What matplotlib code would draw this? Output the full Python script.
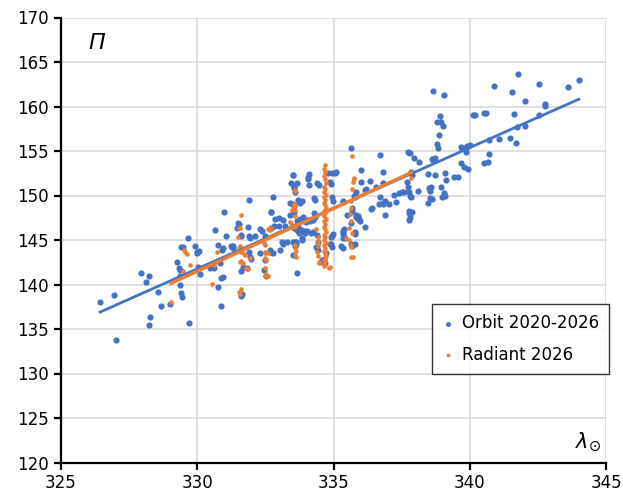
import numpy as np
import matplotlib
matplotlib.use("Agg")
import matplotlib.pyplot as plt

# Orbit 2020-2026 (solar longitude, Pi)
orbit = [
    (326.43, 138.0), (326.95, 138.8), (327.01, 133.8), (327.94, 141.3), (328.10, 140.3),
    (328.23, 140.9), (328.55, 139.2), (328.67, 137.6), (328.27, 136.3), (328.22, 135.5),
    (328.99, 137.8), (329.25, 142.5), (329.32, 141.8), (329.35, 141.6), (329.40, 144.2),
    (329.65, 145.2), (329.90, 144.3), (329.98, 143.5), (329.36, 139.9), (329.40, 139.0),
    (329.45, 138.6), (329.69, 135.7), (330.64, 146.1), (330.98, 148.2), (330.76, 144.4),
    (330.93, 144.1), (331.07, 145.5), (331.23, 144.3), (331.30, 144.3), (330.76, 139.7),
    (330.85, 137.6), (330.88, 140.7), (330.93, 140.8), (330.03, 142.0), (330.00, 143.7),
    (330.05, 143.8), (330.46, 141.8), (330.82, 142.4), (331.44, 146.3), (331.50, 146.9),
    (331.62, 145.6), (331.62, 145.4), (331.86, 146.5), (331.88, 145.4), (331.83, 141.8),
    (331.62, 138.7), (331.64, 138.9), (331.90, 143.7), (332.30, 146.2), (332.36, 146.0),
    (332.47, 145.4), (332.44, 141.6), (332.50, 142.7), (332.69, 148.2), (332.72, 148.2),
    (332.69, 146.3), (332.68, 143.7), (332.53, 141.0), (333.02, 143.9), (332.80, 146.6),
    (332.98, 146.6), (333.22, 146.6), (333.39, 147.8), (333.50, 149.0), (333.53, 148.8),
    (333.55, 148.1), (333.50, 144.8), (333.57, 144.8), (333.62, 144.6), (333.66, 141.3),
    (333.85, 145.2), (333.80, 146.1), (333.86, 146.0), (334.00, 147.0), (334.05, 147.2),
    (334.12, 147.1), (334.17, 145.8), (334.23, 145.9), (334.38, 145.6), (334.42, 144.8),
    (334.67, 142.4), (334.73, 143.5), (334.85, 144.6), (334.97, 145.7), (335.34, 145.9),
    (335.40, 145.2), (335.49, 147.8), (335.65, 146.9), (335.83, 147.8), (335.77, 144.6),
    (331.90, 149.5), (331.52, 146.8), (331.95, 145.2), (332.10, 145.5), (332.78, 149.8),
    (332.85, 147.4), (333.00, 147.5), (333.15, 147.3), (333.50, 152.3), (333.55, 150.8),
    (333.60, 150.4), (333.68, 149.5), (333.72, 149.3), (333.68, 146.5), (333.70, 146.2),
    (333.10, 144.8), (333.15, 144.6), (333.30, 144.8), (332.66, 143.9), (332.70, 143.6),
    (332.78, 143.5), (331.67, 142.0), (331.60, 141.5), (329.48, 144.2), (330.57, 142.1),
    (330.60, 141.8), (331.30, 144.1), (330.89, 143.9), (330.09, 141.2), (329.36, 141.0),
    (331.92, 143.1), (331.97, 142.9), (332.29, 143.5),
    (335.65, 155.3), (336.69, 154.6), (337.73, 154.9), (336.32, 151.6), (336.83, 152.6),
    (336.01, 151.5), (335.75, 150.0), (335.78, 149.8), (336.14, 150.6), (335.68, 148.6),
    (335.66, 148.3), (336.38, 148.5), (336.69, 149.8), (337.05, 149.1), (336.80, 149.1),
    (336.90, 149.4), (337.30, 149.3), (337.60, 150.4), (337.75, 150.4), (336.87, 147.8),
    (336.14, 146.5), (335.88, 147.7), (335.90, 147.4), (335.77, 145.9), (335.80, 145.7),
    (335.37, 146.2), (335.35, 146.0), (334.93, 145.5), (334.90, 145.3), (335.33, 149.4),
    (335.36, 149.3), (334.93, 149.8), (334.96, 149.4), (334.95, 152.5), (335.05, 152.5),
    (335.10, 152.6), (334.85, 151.5), (334.90, 151.3), (334.38, 151.4), (334.45, 151.2),
    (334.08, 152.4), (334.05, 151.9), (333.64, 151.4), (333.45, 151.4), (333.51, 152.3),
    (333.39, 149.2), (333.83, 149.4), (333.78, 149.2), (334.27, 149.7), (334.32, 149.5),
    (334.27, 148.0), (334.30, 147.6), (334.25, 147.3), (333.86, 147.6), (333.78, 147.4),
    (333.66, 147.1), (333.55, 146.4), (333.64, 146.1), (333.72, 145.8), (334.01, 146.0),
    (333.95, 145.8), (333.90, 146.0), (333.85, 145.0), (333.62, 144.8), (333.58, 144.3),
    (334.37, 144.2), (334.42, 143.9), (334.93, 144.2), (334.90, 144.5), (334.56, 142.8),
    (334.65, 142.9), (334.58, 142.5), (335.33, 145.7), (335.36, 145.2), (335.28, 144.3),
    (335.35, 144.1), (335.62, 144.5), (335.66, 144.3), (335.92, 147.4), (335.95, 147.1),
    (333.50, 143.3),
    (341.75, 163.7), (343.99, 163.0), (343.61, 162.2), (342.52, 162.5), (340.89, 162.3),
    (341.53, 161.6), (338.64, 161.7), (339.04, 161.3), (342.03, 160.6), (342.77, 160.3),
    (342.75, 160.1), (338.92, 158.9), (338.95, 158.3), (338.79, 158.3), (339.00, 157.8),
    (338.88, 156.8), (338.81, 155.8), (338.82, 155.3), (340.10, 159.1), (340.20, 159.1),
    (340.50, 159.3), (340.60, 159.3), (341.63, 159.2), (342.55, 159.1), (341.71, 157.7),
    (342.03, 157.8), (340.71, 156.2), (341.05, 156.3), (341.46, 156.5), (341.70, 155.9),
    (339.68, 155.4), (339.78, 155.3), (339.90, 155.6), (340.00, 155.7), (339.86, 154.9),
    (339.84, 155.3), (340.69, 154.7), (340.52, 153.7), (340.65, 153.8), (339.68, 153.6),
    (339.78, 153.2), (339.93, 153.0), (337.81, 154.8), (337.95, 154.2), (338.12, 153.8),
    (338.60, 154.1), (338.66, 154.0), (338.72, 154.2), (337.83, 152.6), (337.88, 152.3),
    (338.45, 152.4), (338.72, 152.3), (339.08, 152.5), (339.12, 151.7), (339.43, 152.1),
    (339.57, 152.1), (337.68, 151.5), (337.72, 151.0), (338.50, 150.8), (338.58, 150.9),
    (338.52, 150.5), (338.95, 150.9), (339.05, 150.3), (339.10, 150.0), (338.97, 149.8),
    (338.62, 149.6), (338.55, 149.7), (338.48, 149.2), (338.11, 150.5), (337.80, 150.0),
    (337.50, 150.4), (336.82, 149.2), (337.78, 148.3), (337.80, 147.6), (337.78, 147.3),
    (337.86, 148.1), (337.23, 150.1), (336.39, 148.6), (335.99, 152.9), (334.05, 152.1),
    (334.10, 151.2), (334.79, 152.5), (333.53, 150.9), (333.55, 151.1), (336.80, 151.4),
    (336.56, 150.9), (336.20, 150.7), (335.83, 150.4), (337.40, 150.3), (337.85, 149.8),
    (336.66, 149.0), (337.78, 148.0), (335.83, 147.6),
]

# Radiant 2026
radiant = [
    (329.03, 138.0), (329.52, 143.9), (329.63, 143.4), (329.72, 142.2), (329.48, 141.5),
    (329.54, 143.7), (330.54, 140.1), (330.73, 143.6), (330.60, 142.2), (331.62, 147.8),
    (331.52, 146.4), (331.56, 146.3), (331.50, 145.3), (331.58, 144.3), (331.52, 144.1),
    (331.62, 143.6), (331.70, 143.4), (331.74, 143.3), (331.56, 142.5), (331.62, 142.6),
    (331.66, 142.4), (331.80, 141.8), (331.86, 141.7), (331.52, 139.2), (331.59, 139.5),
    (331.55, 138.9), (332.40, 145.0), (332.45, 144.7), (332.47, 144.4), (332.47, 143.5),
    (332.50, 143.0), (332.52, 142.8), (332.47, 141.0), (332.52, 141.2), (332.58, 140.9),
    (332.66, 146.1), (332.69, 146.3), (332.58, 143.5), (333.46, 146.7), (333.50, 146.5),
    (333.53, 148.9), (333.55, 149.1), (333.57, 144.4), (333.60, 144.1), (333.62, 143.8),
    (333.60, 143.3), (333.62, 143.1), (333.60, 150.6), (333.60, 148.4), (333.58, 147.7),
    (333.60, 146.5), (333.57, 150.5), (333.53, 148.7), (333.48, 148.4), (333.39, 147.0),
    (332.58, 146.2), (332.50, 143.6), (332.47, 141.9), (331.92, 143.0),
    (334.36, 146.2), (334.45, 142.4), (334.48, 142.5), (334.70, 142.6), (334.85, 142.0),
    (334.83, 141.9), (334.63, 142.1), (334.41, 145.3), (334.42, 144.9), (334.41, 144.6),
    (334.42, 144.3), (334.40, 143.7), (334.41, 143.2),
    (334.69, 153.4), (334.66, 153.0), (334.70, 152.6), (334.64, 152.2), (334.68, 151.8),
    (334.72, 151.4), (334.65, 151.0), (334.69, 150.7), (334.63, 150.4), (334.71, 150.1),
    (334.66, 149.8), (334.70, 149.5), (334.64, 149.2), (334.68, 148.9), (334.72, 148.6),
    (334.65, 148.3), (334.69, 148.0), (334.63, 147.7), (334.71, 147.4), (334.66, 147.1),
    (334.70, 146.8), (334.64, 146.5), (334.68, 146.2), (334.72, 145.9), (334.65, 145.6),
    (334.69, 145.3), (334.63, 145.0), (334.71, 144.7), (334.66, 144.4), (334.70, 144.1),
    (334.64, 143.8), (334.68, 143.5), (334.72, 143.2), (334.65, 142.9), (334.69, 142.6),
    (334.66, 142.3),
    (335.55, 146.3), (335.57, 145.0), (335.62, 144.4), (335.65, 144.2), (335.71, 143.1),
    (335.46, 145.2), (335.68, 154.4), (335.73, 152.0), (335.75, 151.8), (335.70, 151.5),
    (335.66, 150.7), (335.62, 149.4), (335.64, 148.6), (335.60, 147.9), (335.62, 147.1),
    (335.68, 145.8), (335.65, 143.1), (337.85, 152.0),
]

# linear trend lines as shown on the chart (slope, intercept)
orbit_trend = (1.362, -307.7)
radiant_trend = (1.41, -323.8)

orbit_x = np.array([p[0] for p in orbit])
orbit_y = np.array([p[1] for p in orbit])
rad_x = np.array([p[0] for p in radiant])
rad_y = np.array([p[1] for p in radiant])

blue = "#4472C4"
orange = "#ED7D31"

fig = plt.figure(figsize=(6.23, 5.0), dpi=100)
ax = fig.add_axes([0.098, 0.075, 0.875, 0.89])

ax.scatter(orbit_x, orbit_y, s=20, color=blue, lw=0, zorder=3, label="Orbit 2020-2026")
ax.scatter(rad_x, rad_y, s=11, color=orange, lw=0, zorder=4, label="Radiant 2026")

xx = np.array([orbit_x.min(), orbit_x.max()])
ax.plot(xx, orbit_trend[0] * xx + orbit_trend[1], color=blue, lw=2, zorder=5)
xx2 = np.array([rad_x.min(), rad_x.max()])
ax.plot(xx2, radiant_trend[0] * xx2 + radiant_trend[1], color=orange, lw=2.5, zorder=6)

ax.set_xlim(325, 345)
ax.set_ylim(120, 170)
ax.set_xticks(range(325, 346, 5))
ax.set_yticks(range(120, 171, 5))
ax.grid(True, color="#D9D9D9", lw=1.2, zorder=0)
ax.set_axisbelow(True)
for s in ["top", "right"]:
    ax.spines[s].set_visible(False)
for s in ["left", "bottom"]:
    ax.spines[s].set_linewidth(1.6)
ax.tick_params(direction="out", length=5, width=1.6, labelsize=12, colors="black")

ax.text(0.05, 0.942, "П", transform=ax.transAxes, fontsize=16, style="italic",
        ha="left", va="center")
ax.text(0.99, 0.045, r"$\lambda_{\odot}$", transform=ax.transAxes, fontsize=15,
        ha="right", va="center")

leg = ax.legend(loc="lower right", bbox_to_anchor=(1.005, 0.2), fontsize=12,
                frameon=True, fancybox=False, edgecolor="black", markerscale=0.8,
                handlelength=0.8, handletextpad=0.4, borderpad=0.6,
                labelspacing=0.8, borderaxespad=0)
leg.get_frame().set_linewidth(1.0)

fig.savefig("out.png", dpi=100)
